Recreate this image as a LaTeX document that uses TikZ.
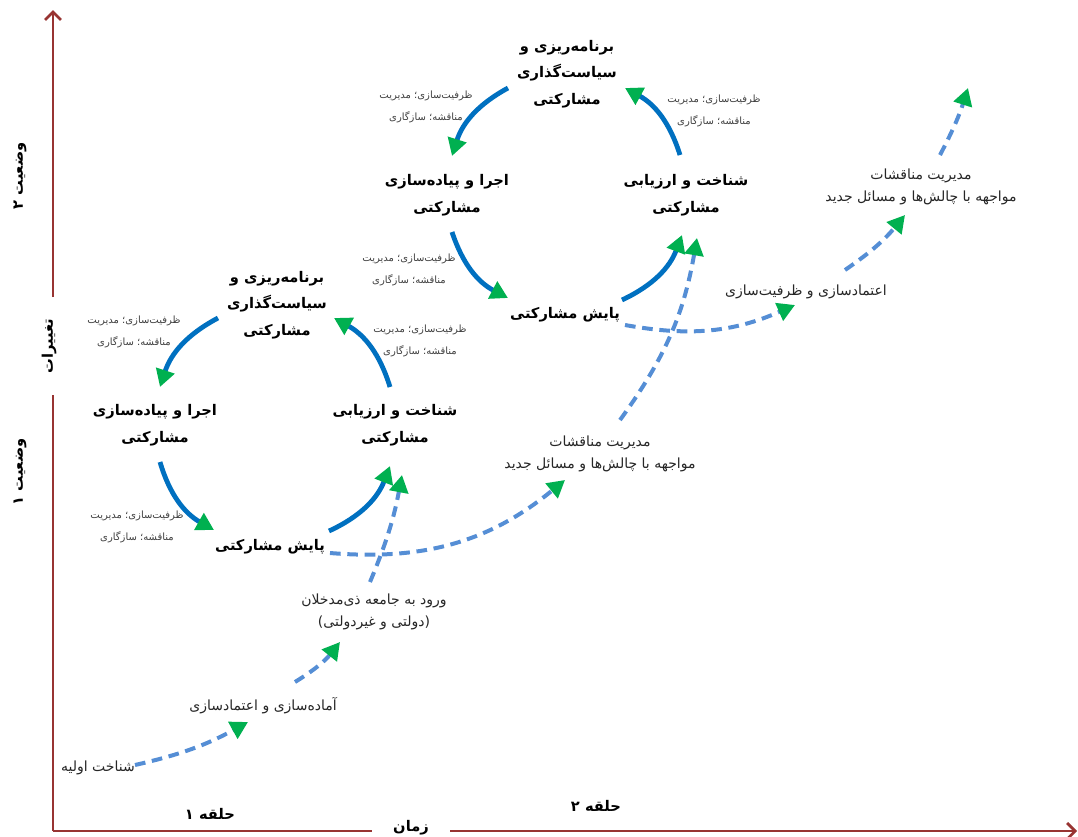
\documentclass[tikz,border=0pt]{standalone}
\usepackage{fontspec}
\usepackage{tikz}
\usetikzlibrary{arrows.meta,positioning}
\TeXXeTstate=1
\newfontfamily\fafont[Script=Arabic]{DejaVu Sans}
\newcommand{\fa}[1]{{\fafont\beginR #1\endR}}
\definecolor{cycblue}{RGB}{0,112,192}
\definecolor{dashblue}{RGB}{85,142,213}
\definecolor{tipgreen}{RGB}{0,176,80}
\definecolor{axisred}{RGB}{152,52,50}

\begin{document}
\begin{tikzpicture}[
      x=0.75pt, y=-0.75pt,
      stage/.style={align=center,font=\fontsize{11}{20}\selectfont\bfseries},
      note/.style={align=center,text=black!75,font=\fontsize{7.5}{16}\selectfont},
      event/.style={align=center,text=black!85,font=\fontsize{10.5}{17}\selectfont},
      axislabel/.style={font=\fontsize{11}{13}\selectfont\bfseries,inner xsep=16pt,inner ysep=2pt},
      ring/.style={font=\fontsize{11}{13}\selectfont\bfseries},
      axis/.style={axisred,line width=2pt},
      cycarrow/.style={->,cycblue,line width=3.6pt},
      patharrow/.style={->,dashblue,line width=3pt,dash pattern=on 8pt off 5pt},
      >={Triangle[length=13pt,width=14pt,color=tipgreen]}
    ]
    \useasboundingbox (0,0) rectangle (1078,836);

    \coordinate (O) at (53,831);
    \coordinate (ytop) at (53,10);
    \coordinate (xend) at (1077,831);
    \node[axislabel,rotate=90] (chg) at (49,346) {\fa{تغییرات}};
    \node[axislabel] (time) at (411,828) {\fa{زمان}};
    \node[ring,rotate=90] (st2) at (20,176) {\fa{وضعیت ۲}};
    \node[ring,rotate=90] (st1) at (20,472) {\fa{وضعیت ۱}};
    \node[ring] (ring1) at (210,814) {\fa{حلقه ۱}};
    \node[ring] (ring2) at (596,806) {\fa{حلقه ۲}};

    \draw[axis] (O) -- (O |- chg.west);
    \draw[axis,-{Straight Barb[length=6pt,width=12pt]}] (O |- chg.east) -- (ytop);
    \draw[axis] (O) -- (time.west |- O);
    \draw[axis,-{Straight Barb[length=6pt,width=12pt]}] (time.east |- O) -- (xend);

    \node[stage] (P1) at (277,305) {\fa{برنامه‌ریزی و}\\\fa{سیاست‌گذاری}\\\fa{مشارکتی}};
    \node[stage] (I1) at (155,425) {\fa{اجرا و پیاده‌سازی}\\\fa{مشارکتی}};
    \node[stage] (M1) at (270,547) {\fa{پایش مشارکتی}};
    \node[stage] (E1) at (395,425) {\fa{شناخت و ارزیابی}\\\fa{مشارکتی}};

    \node[stage] (P2) at (567,74) {\fa{برنامه‌ریزی و}\\\fa{سیاست‌گذاری}\\\fa{مشارکتی}};
    \node[stage] (I2) at (447,195) {\fa{اجرا و پیاده‌سازی}\\\fa{مشارکتی}};
    \node[stage] (M2) at (565,315) {\fa{پایش مشارکتی}};
    \node[stage] (E2) at (686,195) {\fa{شناخت و ارزیابی}\\\fa{مشارکتی}};

    \node[note] (n1) at (134,332) {\fa{ظرفیت‌سازی؛ مدیریت}\\\fa{مناقشه؛ سازگاری}};
    \node[note] (n2) at (137,527) {\fa{ظرفیت‌سازی؛ مدیریت}\\\fa{مناقشه؛ سازگاری}};
    \node[note] (n3) at (420,341) {\fa{ظرفیت‌سازی؛ مدیریت}\\\fa{مناقشه؛ سازگاری}};
    \node[note] (n4) at (426,107) {\fa{ظرفیت‌سازی؛ مدیریت}\\\fa{مناقشه؛ سازگاری}};
    \node[note] (n5) at (409,270) {\fa{ظرفیت‌سازی؛ مدیریت}\\\fa{مناقشه؛ سازگاری}};
    \node[note] (n6) at (714,111) {\fa{ظرفیت‌سازی؛ مدیریت}\\\fa{مناقشه؛ سازگاری}};

    \node[event] (init) at (98,768) {\fa{شناخت اولیه}};
    \node[event] (prep) at (263,706) {\fa{آماده‌سازی و اعتمادسازی}};
    \node[event] (entry) at (374,612) {\fa{ورود به جامعه ذی‌مدخلان}\\\fa{(دولتی و غیردولتی)}};
    \node[event] (conf1) at (600,454) {\fa{مدیریت مناقشات}\\\fa{مواجهه با چالش‌ها و مسائل جدید}};
    \node[event] (trust) at (806,292) {\fa{اعتمادسازی و ظرفیت‌سازی}};
    \node[event] (conf2) at (921,187) {\fa{مدیریت مناقشات}\\\fa{مواجهه با چالش‌ها و مسائل جدید}};
    \coordinate (next) at (968,88);

    \draw[cycarrow] ([shift={(-59,13)}]P1.center) to[bend right=22] ([shift={(5,-38)}]I1.center);
    \draw[cycarrow] ([shift={(5,37)}]I1.center) to[bend right=22] ([shift={(-56,-17)}]M1.center);
    \draw[cycarrow] ([shift={(59,-16)}]M1.center) to[bend right=22] ([shift={(-5,41)}]E1.center);
    \draw[cycarrow] ([shift={(-5,-38)}]E1.center) to[bend right=22] ([shift={(57,13)}]P1.center);

    \draw[cycarrow] ([shift={(-59,14)}]P2.center) to[bend right=22] ([shift={(5,-39)}]I2.center);
    \draw[cycarrow] ([shift={(5,37)}]I2.center) to[bend right=22] ([shift={(-57,-17)}]M2.center);
    \draw[cycarrow] ([shift={(57,-15)}]M2.center) to[bend right=22] ([shift={(-4,40)}]E2.center);
    \draw[cycarrow] ([shift={(-6,-40)}]E2.center) to[bend right=22] ([shift={(58,14)}]P2.center);

    \draw[patharrow] ([shift={(37,-3)}]init.center) to[bend right=8] ([shift={(-15,16)}]prep.center);
    \draw[patharrow] ([shift={(32,-24)}]prep.center) to[bend right=10] ([shift={(-34,30)}]entry.center);
    \draw[patharrow] ([shift={(-4,-30)}]entry.center) to[bend right=6] ([shift={(7,50)}]E1.center);
    \draw[patharrow] ([shift={(60,6)}]M1.center) to[bend right=22] ([shift={(-35,26)}]conf1.center);
    \draw[patharrow] ([shift={(20,-34)}]conf1.center) to[bend right=13] ([shift={(11,43)}]E2.center);
    \draw[patharrow] ([shift={(60,10)}]M2.center) to[bend right=17] ([shift={(-11,13)}]trust.center);
    \draw[patharrow] ([shift={(39,-22)}]trust.center) to[bend right=8] ([shift={(-16,28)}]conf2.center);
    \draw[patharrow] ([shift={(19,-32)}]conf2.center) to[bend right=5] (next);
  \end{tikzpicture}
\end{document}
